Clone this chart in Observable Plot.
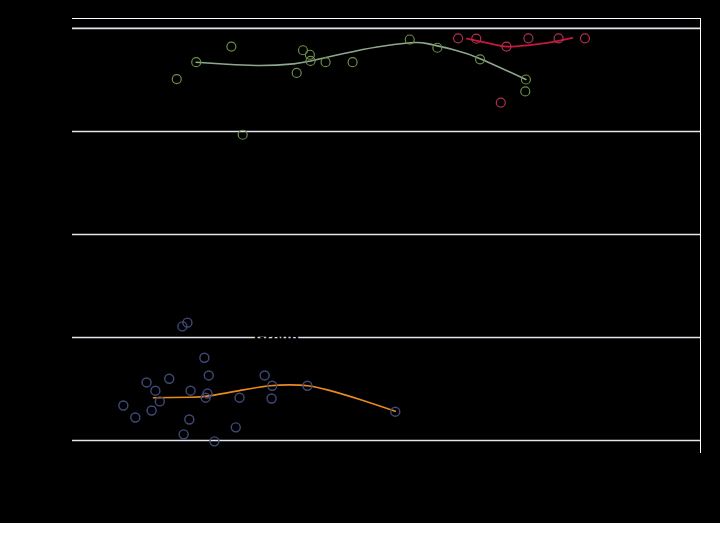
<!DOCTYPE html>
<html>
<head>
<meta charset="utf-8">
<script src="https://cdn.jsdelivr.net/npm/d3@7"></script>
<script src="https://cdn.jsdelivr.net/npm/@observablehq/plot@0.6"></script>
<style>
  html, body { margin: 0; padding: 0; background: #ffffff; }
  #chart svg { display: block; }
</style>
</head>
<body>
<div id="chart"></div>
<script>
// ---- data ----
const yTicks = [0, 25, 50, 75, 100];
const yDomain = [-2.9, 102.4];
const xDomain = [0, 100];

const greenX = [16.6, 19.7, 25.3, 27.1, 35.7, 36.7, 37.8, 37.9, 40.3, 44.6, 53.7, 58.1, 64.9, 72.2, 72.1];
const greenY = [87.7, 91.8, 95.6, 74.2, 89.2, 94.7, 93.6, 92.1, 91.8, 91.8, 97.3, 95.3, 92.5, 87.6, 84.7];
const greenLineX = [19.7, 24.6, 29.9, 35.2, 37.9, 43.2, 48.5, 53.8, 56.5, 60.7, 65.0, 72.2];
const greenLineY = [91.8, 91.3, 91.0, 91.4, 92.1, 93.9, 95.5, 96.5, 96.3, 94.8, 92.6, 87.6];

const redX = [61.4, 64.3, 69.1, 68.2, 72.6, 77.4, 81.6];
const redY = [97.6, 97.5, 95.6, 82.0, 97.6, 97.6, 97.6];
const redLineX = [62.8, 67.1, 69.2, 72.4, 76.1, 79.6];
const redLineY = [97.5, 96.1, 95.6, 95.9, 96.6, 97.7];

const blueX = [8.1, 10.0, 11.8, 12.6, 13.2, 13.9, 15.4, 17.5, 18.3, 17.7, 18.6, 18.8, 21.0, 21.7, 21.5, 21.2, 22.6, 26.0, 26.6, 30.6, 31.8, 31.7, 37.4, 51.4];
const blueY = [8.5, 5.6, 14.1, 7.3, 12.1, 9.5, 15.0, 27.7, 28.6, 1.5, 5.1, 12.1, 20.1, 15.8, 11.4, 10.4, -0.2, 3.2, 10.4, 15.8, 13.3, 10.2, 13.3, 7.0];
const orangeLineX = [12.9, 18.8, 22.0, 27.2, 31.5, 34.7, 37.4, 40.6, 45.9, 51.4];
const orangeLineY = [10.4, 10.5, 10.9, 12.3, 13.3, 13.5, 13.3, 12.3, 9.9, 7.1];

const labelText = ["Group"];
const labelX = [32.5];
const labelY = [25];

// ---- build tables ----
const zip = (xs, ys) => xs.map((x, i) => ({x, y: ys[i]}));
const green = zip(greenX, greenY), greenLine = zip(greenLineX, greenLineY);
const red = zip(redX, redY), redLine = zip(redLineX, redLineY);
const blue = zip(blueX, blueY), orangeLine = zip(orangeLineX, orangeLineY);
const labels = labelText.map((t, i) => ({t, x: labelX[i], y: labelY[i]}));

const chart = Plot.plot({
  width: 720,
  height: 523,
  marginLeft: 72,
  marginRight: 20,
  marginTop: 18,
  marginBottom: 71,
  style: {background: "#000000", color: "#000000", fontFamily: "DejaVu Sans", fontSize: "11px"},
  x: {domain: xDomain, label: null},
  y: {domain: yDomain, ticks: yTicks, label: null},
  marks: [
    Plot.gridY(yTicks, {stroke: "#e4e4ec", strokeOpacity: 1, strokeWidth: 1.6}),
    Plot.axisY(yTicks, {tickSize: 0, color: "#000000", fill: "#000000"}),
    Plot.axisX({tickSize: 0, color: "#000000", fill: "#000000"}),
    Plot.frame({anchor: "top", stroke: "#ffffff", strokeWidth: 1}),
    Plot.frame({anchor: "right", stroke: "#ffffff", strokeWidth: 1}),
    Plot.text(labels, {x: "x", y: "y", text: "t", fill: "#000000", fontSize: 13, fontWeight: "bold"}),
    Plot.line(greenLine, {x: "x", y: "y", stroke: "#8ea88e", strokeWidth: 1.6, curve: "natural"}),
    Plot.line(redLine, {x: "x", y: "y", stroke: "#c8173f", strokeWidth: 1.8, curve: "natural"}),
    Plot.line(orangeLine, {x: "x", y: "y", stroke: "#e88a1c", strokeWidth: 1.6, curve: "natural"}),
    Plot.dot(green, {x: "x", y: "y", r: 4.5, stroke: "#6b8f45", strokeWidth: 1.2, fill: "none"}),
    Plot.dot(red, {x: "x", y: "y", r: 4.5, stroke: "#b03050", strokeWidth: 1.2, fill: "none"}),
    Plot.dot(blue, {x: "x", y: "y", r: 4.5, stroke: "#3f4a7a", strokeWidth: 1.4, fill: "none"})
  ]
});
document.getElementById("chart").appendChild(chart);
</script>
</body>
</html>
